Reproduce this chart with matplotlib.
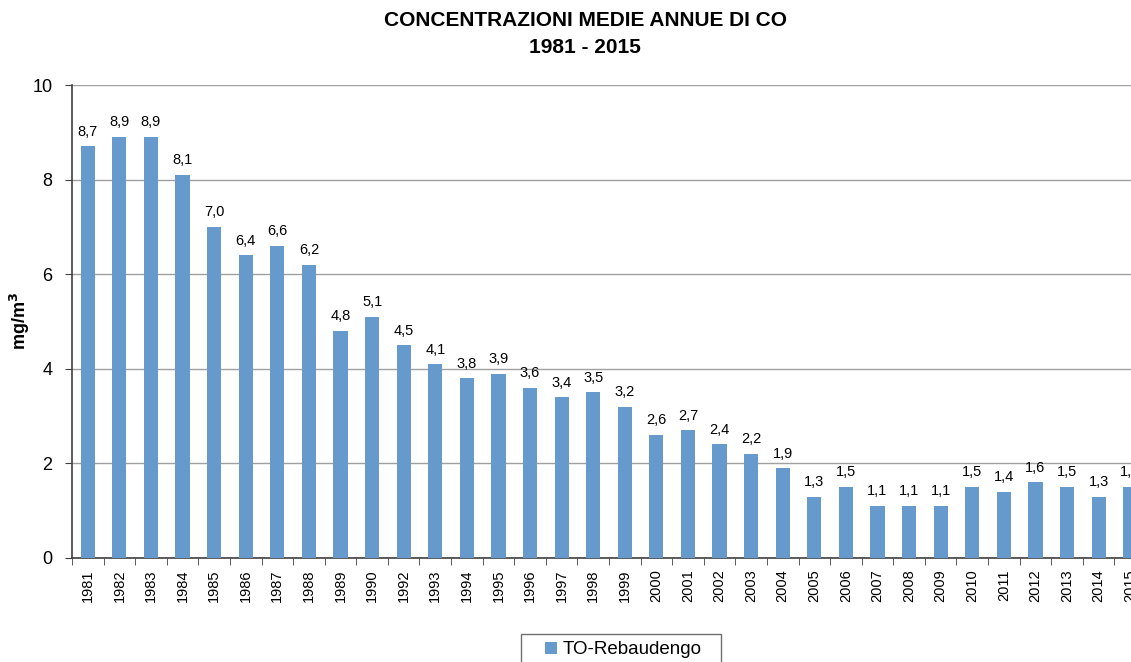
import matplotlib
matplotlib.use("Agg")
import matplotlib.pyplot as plt
from matplotlib.patches import Patch, Rectangle

plt.rcParams['font.family'] = ['Liberation Sans', 'DejaVu Sans']

years = ["1981", "1982", "1983", "1984", "1985", "1986", "1987", "1988", "1989", "1990",
         "1992", "1993", "1994", "1995", "1996", "1997", "1998", "1999", "2000", "2001",
         "2002", "2003", "2004", "2005", "2006", "2007", "2008", "2009", "2010", "2011",
         "2012", "2013", "2014", "2015"]
values = [8.7, 8.9, 8.9, 8.1, 7.0, 6.4, 6.6, 6.2, 4.8, 5.1,
          4.5, 4.1, 3.8, 3.9, 3.6, 3.4, 3.5, 3.2, 2.6, 2.7,
          2.4, 2.2, 1.9, 1.3, 1.5, 1.1, 1.1, 1.1, 1.5, 1.4,
          1.6, 1.5, 1.3, 1.5]
series_name = "TO-Rebaudengo"
title = "CONCENTRAZIONI MEDIE ANNUE DI CO\n1981 - 2015"
bar_color = "#6699CC"

W, H = 1131, 662
fig = plt.figure(figsize=(W / 100, H / 100), dpi=100)
left_px, right_px, top_px, bottom_px = 72, 1146, 85, 558
ax = fig.add_axes([left_px / W, (H - bottom_px) / H,
                   (right_px - left_px) / W, (bottom_px - top_px) / H])

x = list(range(len(years)))
ax.bar(x, values, width=0.45, color=bar_color, zorder=3)
for xi, v in zip(x, values):
    ax.text(xi, v + 0.16, f"{v:.1f}".replace(".", ","), ha="center", va="bottom",
            fontsize=10.5, color="black", zorder=4)

ax.set_xlim(-0.5, len(years) - 0.5)
ax.set_ylim(0, 10)
ax.set_yticks([0, 2, 4, 6, 8, 10])
ax.set_yticklabels(["0", "2", "4", "6", "8", "10"], fontsize=13)
ax.yaxis.grid(True, color="#A0A0A0", linewidth=1, zorder=0)
ax.tick_params(axis="y", direction="out", length=5, color="#404040", pad=9)

ax.set_xticks(x)
ax.set_xticklabels(years, rotation=90, fontsize=10.5)
ax.tick_params(axis="x", which="major", length=0, pad=8)
ax.set_xticks([i + 0.5 for i in range(-1, len(years))], minor=True)
ax.tick_params(axis="x", which="minor", direction="out", length=5, color="#404040")

for s in ["top", "right"]:
    ax.spines[s].set_visible(False)
for s in ["left", "bottom"]:
    ax.spines[s].set_color("#404040")
    ax.spines[s].set_linewidth(1.2)

ax.set_ylabel("mg/m$^\\mathbf{3}$", fontsize=13, fontweight="bold")
ax.yaxis.set_label_coords((32 - left_px) / (right_px - left_px), 0.5)

fig.text(585 / W, 1 - 34 / H, title, ha="center", va="center",
         fontsize=15, fontweight="bold", linespacing=1.5)

# legend
fig.patches.append(Rectangle((521 / W, -0.05), 200 / W, 0.05 + (H - 634) / H,
                             transform=fig.transFigure, facecolor="white",
                             edgecolor="#707070", linewidth=1.0))
handle = Patch(facecolor=bar_color, edgecolor="none")
fig.legend([handle], [series_name], loc="center left",
           bbox_to_anchor=(545 / W, 1 - 650 / H), fontsize=13.5,
           frameon=False, handlelength=0.65, handleheight=0.65,
           handletextpad=0.3, borderpad=0, borderaxespad=0)

fig.savefig("out.png", dpi=100)
